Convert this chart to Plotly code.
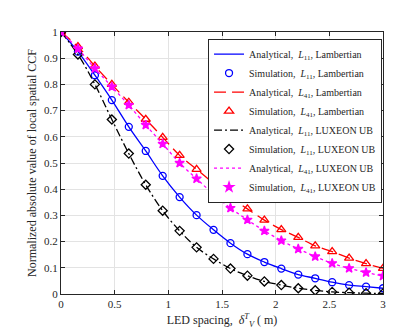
import numpy as np
import plotly.graph_objects as go

# LED spacing (m), 20 sample points
spacing = np.linspace(0, 3, 20)

l11_lamb = [1.0, 0.925, 0.835, 0.740, 0.638, 0.546, 0.451, 0.370, 0.301, 0.245,
            0.194, 0.152, 0.122, 0.097, 0.074, 0.060, 0.045, 0.034, 0.028, 0.022]
l41_lamb = [1.0, 0.944, 0.870, 0.800, 0.732, 0.667, 0.598, 0.529, 0.476, 0.422,
            0.369, 0.325, 0.282, 0.246, 0.216, 0.184, 0.162, 0.137, 0.116, 0.098]
l11_lux = [1.0, 0.914, 0.800, 0.666, 0.536, 0.417, 0.318, 0.241, 0.178, 0.134,
           0.097, 0.070, 0.048, 0.034, 0.022, 0.014, 0.008, 0.005, 0.003, 0.002]
l41_lux = [1.0, 0.936, 0.861, 0.791, 0.721, 0.645, 0.573, 0.500, 0.440, 0.381,
           0.328, 0.283, 0.241, 0.204, 0.172, 0.143, 0.117, 0.098, 0.082, 0.069]

x_ticks = [0, 0.5, 1, 1.5, 2, 2.5, 3]
x_ticklabels = ["0", "0.5", "1", "1.5", "2", "2.5", "3"]
y_ticks = [0, 0.1, 0.2, 0.3, 0.4, 0.5, 0.6, 0.7, 0.8, 0.9, 1]
y_ticklabels = ["0", "0.1", "0.2", "0.3", "0.4", "0.5", "0.6", "0.7", "0.8", "0.9", "1"]

FONT = "Liberation Serif"

# (values, colour, dash, marker symbol, marker size, label)
series = [
    (l11_lamb, "#0000ff", "solid", "circle-open", 7, "<i>L</i><sub>11</sub>, Lambertian"),
    (l41_lamb, "#ff0000", "12px,6px", "triangle-up-open", 8, "<i>L</i><sub>41</sub>, Lambertian"),
    (l11_lux, "#000000", "8px,3px,2px,3px", "diamond-open", 7, "<i>L</i><sub>11</sub>, LUXEON UB"),
    (l41_lux, "#ff00ff", "dot", "star", 7, "<i>L</i><sub>41</sub>, LUXEON UB"),
]

fig = go.Figure()
for vals, col, dash, sym, size, lab in series:
    fig.add_trace(go.Scatter(
        x=spacing, y=vals, mode="lines", line_shape="spline",
        line=dict(color=col, width=1.3, dash=dash),
        name="Analytical,  " + lab))
    fig.add_trace(go.Scatter(
        x=spacing, y=vals, mode="markers",
        marker=dict(symbol=sym, size=size, color=col,
                    line=dict(color=col, width=1.3)),
        name="Simulation,  " + lab))

axis_common = dict(
    showgrid=True, gridcolor="#e3e3e3", gridwidth=1,
    showline=True, linecolor="#262626", linewidth=1, mirror="ticks",
    ticks="inside", ticklen=4, tickcolor="#262626",
    tickfont=dict(family=FONT, size=11, color="#262626"),
    zeroline=False,
)

fig.update_layout(
    width=415, height=332,
    margin=dict(l=53, r=40, t=24, b=46),
    paper_bgcolor="white", plot_bgcolor="white",
    font=dict(family=FONT, color="#262626"),
    showlegend=True,
    legend=dict(
        x=0.997, y=0.975, xanchor="right", yanchor="top",
        bgcolor="white", bordercolor="#262626", borderwidth=1,
        font=dict(family=FONT, size=10, color="#262626"),
        itemwidth=30, tracegroupgap=0,
    ),
    xaxis=dict(axis_common, range=[0, 3], tickvals=x_ticks, ticktext=x_ticklabels,
               title=dict(text="LED spacing,  <i>δ</i><sup><i>T</i></sup><sub><i>V</i></sub> ( m)",
                          font=dict(family=FONT, size=12), standoff=6)),
    yaxis=dict(axis_common, range=[0, 1], tickvals=y_ticks, ticktext=y_ticklabels,
               title=dict(text="Normalized absolute value of local spatial CCF",
                          font=dict(family=FONT, size=12), standoff=4)),
)

fig.write_html("out.html")
